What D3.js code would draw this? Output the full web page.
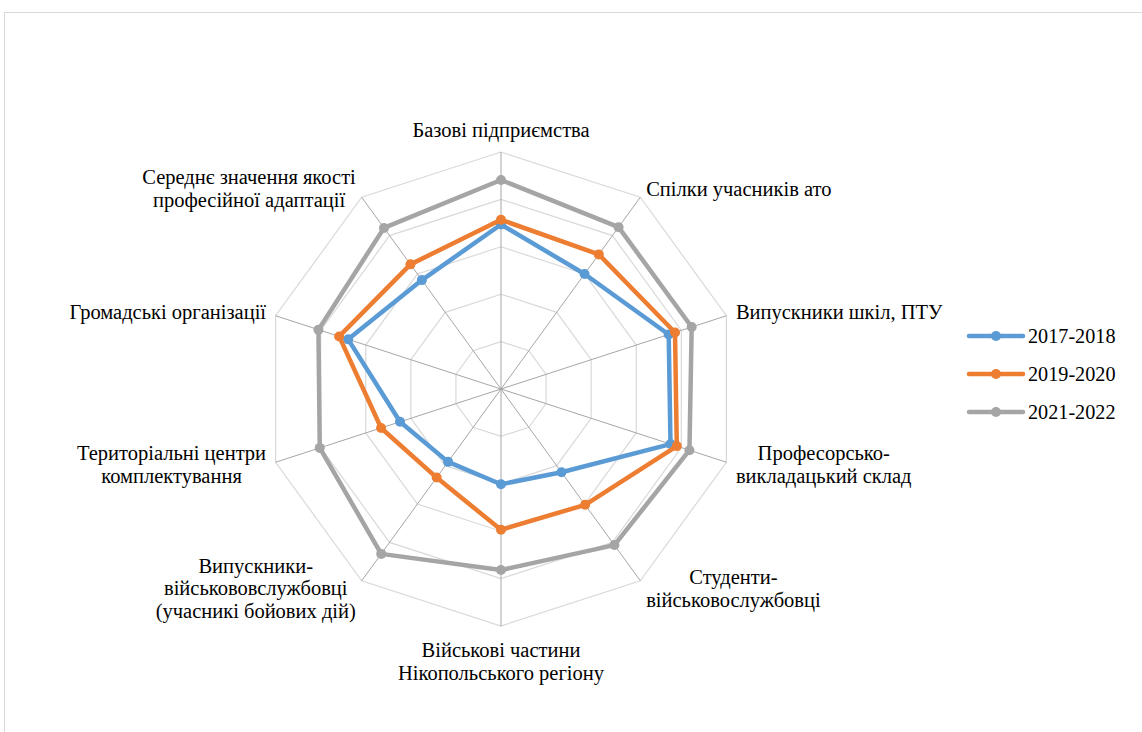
<!DOCTYPE html>
<html>
<head>
<meta charset="utf-8">
<script src="https://cdn.jsdelivr.net/npm/d3@7"></script>
<style>
  html, body { margin: 0; padding: 0; background: #fff; }
  svg { display: block; }
</style>
</head>
<body>
<svg id="chart" width="1142" height="732"></svg>
<script>
// ---- data ----
const categories = [
  ["Базові підприємства"],
  ["Спілки учасників ато"],
  ["Випускники шкіл, ПТУ"],
  ["Професорсько-", "викладацький склад"],
  ["Студенти-", "військовослужбовці"],
  ["Військові частини", "Нікопольського регіону"],
  ["Випускники-", "військововслужбовці", "(учасникі бойових дій)"],
  ["Територіальні центри", "комплектування"],
  ["Громадські організації"],
  ["Середнє значення якості", "професійної адаптації"]
];
const seriesNames = ["2017-2018", "2019-2020", "2021-2022"];
const values2017 = [3.47, 3.00, 3.72, 3.76, 2.17, 2.01, 1.90, 2.24, 3.39, 2.84];
const values2019 = [3.57, 3.51, 3.86, 3.90, 3.02, 2.97, 2.31, 2.66, 3.59, 3.25];
const values2021 = [4.41, 4.22, 4.23, 4.18, 4.07, 3.82, 4.30, 4.02, 4.05, 4.20];
const gridTicks = [1, 2, 3, 4, 5];
const colors = ["#5B9BD5", "#ED7D31", "#A5A5A5"];

// ---- layout ----
const svg = d3.select("#chart");
const FONT = "'Liberation Serif', 'Times New Roman', serif";
const cx = 501, cy = 389, R = 237;
const fontSize = 20.5, legendFont = 20.2, lineH = 22.8;

svg.append("rect")
  .attr("x", 4.5).attr("y", 12.5)
  .attr("width", 1200).attr("height", 800)
  .attr("fill", "#fff").attr("stroke", "#d9d9d9").attr("stroke-width", 1);

const n = categories.length;
const angle = d3.scaleLinear().domain([0, n]).range([0, 2 * Math.PI]);
const r = d3.scaleLinear().domain([0, d3.max(gridTicks)]).range([0, R]);

const g = svg.append("g").attr("transform", `translate(${cx},${cy})`);
const pt = (i, v) => [r(v) * Math.sin(angle(i)), -r(v) * Math.cos(angle(i))];

// grid rings
const ringLine = d3.line();
gridTicks.forEach(t => {
  const pts = d3.range(n).map(i => pt(i, t));
  pts.push(pts[0]);
  g.append("path").attr("d", ringLine(pts))
    .attr("fill", "none").attr("stroke", "#d9d9d9").attr("stroke-width", 1.2);
});
// spokes
d3.range(n).forEach(i => {
  const p = pt(i, d3.max(gridTicks));
  g.append("line").attr("x1", 0).attr("y1", 0).attr("x2", p[0]).attr("y2", p[1])
    .attr("stroke", "#a6a6a6").attr("stroke-width", 1);
});

// series
const allSeries = [values2017, values2019, values2021];
const radial = d3.lineRadial().angle((d, i) => angle(i)).radius(d => r(d)).curve(d3.curveLinearClosed);
allSeries.forEach((vals, s) => {
  g.append("path").attr("d", radial(vals))
    .attr("fill", "none").attr("stroke", colors[s]).attr("stroke-width", 4.5)
    .attr("stroke-linejoin", "round");
  g.selectAll(null).data(vals).enter().append("circle")
    .attr("cx", (d, i) => pt(i, d)[0]).attr("cy", (d, i) => pt(i, d)[1])
    .attr("r", 5).attr("fill", colors[s]);
});

// category labels
const off = 10;
categories.forEach((lines, i) => {
  const a = angle(i);
  const dx = Math.sin(a), dy = -Math.cos(a);
  const px = cx + (R + off) * dx, py = cy + (R + off) * dy;
  const tg = svg.append("g");
  const texts = lines.map(l => tg.append("text")
    .attr("font-family", FONT).attr("font-size", fontSize).attr("fill", "#000")
    .attr("text-anchor", "middle").text(l));
  const w = d3.max(texts, t => t.node().getComputedTextLength());
  let bx, firstBase;
  if (Math.abs(dx) > 0.01) {
    bx = dx > 0 ? px + w / 2 : px - w / 2;
    firstBase = py + 6.5 - (lines.length - 1) * lineH / 2;
  } else {
    bx = px;
    firstBase = dy < 0 ? py - 5 - (lines.length - 1) * lineH : py + 21;
  }
  texts.forEach((t, k) => t.attr("x", bx).attr("y", firstBase + k * lineH));
});

// legend
const legX = 969, legW = 54, legY0 = 336, legStep = 38;
seriesNames.forEach((name, s) => {
  const y = legY0 + s * legStep;
  svg.append("line").attr("x1", legX).attr("x2", legX + legW).attr("y1", y).attr("y2", y)
    .attr("stroke", colors[s]).attr("stroke-width", 4.5).attr("stroke-linecap", "round");
  svg.append("circle").attr("cx", legX + legW / 2).attr("cy", y).attr("r", 5).attr("fill", colors[s]);
  svg.append("text").attr("x", legX + legW + 5).attr("y", y + 7)
    .attr("font-family", FONT).attr("font-size", legendFont).attr("fill", "#000").text(name);
});
</script>
</body>
</html>
